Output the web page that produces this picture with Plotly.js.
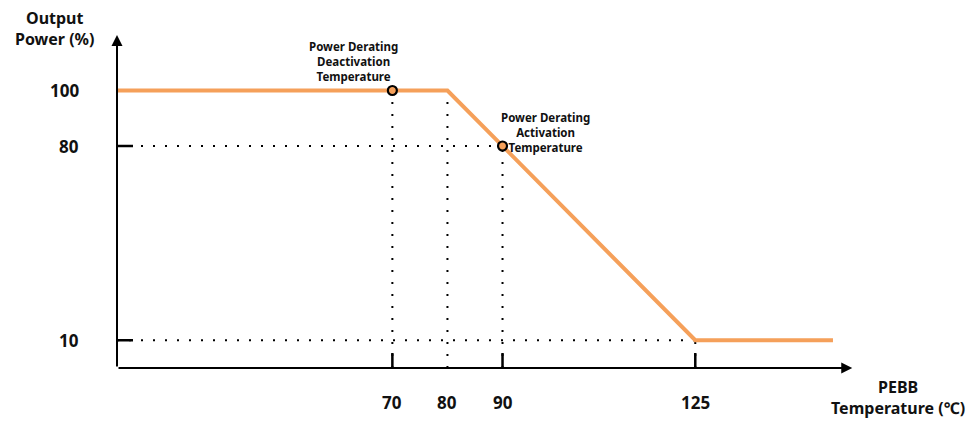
<!DOCTYPE html>
<html>
<head>
<meta charset="utf-8">
<script src="https://cdn.plot.ly/plotly-3.0.1.min.js"></script>
<style>html,body{margin:0;padding:0;background:#fff;}#chart{width:977px;height:421px;}</style>
</head>
<body>
<div id="chart"></div>
<script>
// Data
const curveTemp = [20, 80, 125, 150];
const curvePower = [100, 100, 10, 10];
const markerTemp = [70, 90];
const markerPower = [100, 80];
const xTickVals = [70, 80, 90, 125];
const xTickMarks = [70, 90, 125];
const yTickVals = [10, 80, 100];
const vGuideTemp = [70, 80, 90, 125];
const vGuideTop = [100, 100, 80, 10];
const hGuidePower = [80, 10];
const hGuideEnd = [90, 125];
const xMin = 20, xMax = 154, yMax = 120, xArrowEnd = 153.5;

const FONT = '"Noto Sans", "Open Sans", sans-serif';
const ORANGE = '#F5A05A';
const DOT = '2px,10px';

const shapes = [];
// dotted guides
vGuideTemp.forEach((t, i) => shapes.push({type:'line', xref:'x', yref:'y', x0:t, x1:t, y0:0, y1:vGuideTop[i],
  line:{color:'#000', width:2, dash:DOT}, layer:'below'}));
hGuidePower.forEach((p, i) => shapes.push({type:'line', xref:'x', yref:'y', x0:xMin, x1:hGuideEnd[i], y0:p, y1:p,
  line:{color:'#000', width:2, dash:DOT}, layer:'below'}));
// ticks
yTickVals.forEach(v => shapes.push({type:'line', xref:'x', yref:'y', xsizemode:'pixel', xanchor:xMin, x0:-16, x1:16, y0:v, y1:v,
  line:{color:'#000', width:2.5}, layer:'below'}));
xTickMarks.forEach(v => shapes.push({type:'line', xref:'x', yref:'y', ysizemode:'pixel', yanchor:0, y0:-15, y1:15, x0:v, x1:v,
  line:{color:'#000', width:2.5}, layer:'below'}));

const annotations = [];
// axes with arrows
annotations.push({xref:'x', yref:'y', axref:'x', ayref:'y', x:xArrowEnd, y:0, ax:xMin, ay:0, text:'', showarrow:true,
  arrowhead:2, arrowsize:1.1, arrowwidth:2, arrowcolor:'#000'});
annotations.push({xref:'x', yref:'y', axref:'x', ayref:'y', x:xMin, y:yMax, ax:xMin, ay:0, text:'', showarrow:true,
  arrowhead:2, arrowsize:1.1, arrowwidth:2, arrowcolor:'#000'});
// tick labels
yTickVals.forEach(v => annotations.push({xref:'x', yref:'y', x:xMin, y:v, xshift:-36, xanchor:'right', yanchor:'middle',
  text:'<b>'+v+'</b>', showarrow:false, font:{family:FONT, size:17, color:'#111'}}));
xTickVals.forEach(v => annotations.push({xref:'x', yref:'y', x:v, y:0, yshift:-34, xanchor:'center', yanchor:'middle',
  text:'<b>'+v+'</b>', showarrow:false, font:{family:FONT, size:17, color:'#111'}}));
// axis titles
annotations.push({xref:'paper', yref:'paper', x:0, y:1, xshift:-63, yshift:7, xanchor:'center', yanchor:'middle',
  text:'<b>Output</b><br><b>Power (%)</b>', showarrow:false, align:'center', font:{family:FONT, size:16, color:'#111'}});
annotations.push({xref:'x', yref:'y', x:xArrowEnd, y:0, xshift:46, yshift:-29, xanchor:'center', yanchor:'middle',
  text:'<b>PEBB</b><br><b>Temperature (℃)</b>', showarrow:false, align:'center', font:{family:FONT, size:16, color:'#111'}});
// point labels
annotations.push({xref:'x', yref:'y', x:markerTemp[0], y:markerPower[0], xshift:-39, yshift:29, xanchor:'center', yanchor:'middle',
  text:'<b>Power Derating</b><br><b>Deactivation</b><br><b>Temperature</b>', showarrow:false, align:'center',
  font:{family:FONT, size:11.5, color:'#111'}});
annotations.push({xref:'x', yref:'y', x:markerTemp[1], y:markerPower[1], xshift:43, yshift:14, xanchor:'center', yanchor:'middle',
  text:'<b>Power Derating</b><br><b>Activation</b><br><b>Temperature</b>', showarrow:false, align:'center',
  font:{family:FONT, size:11.5, color:'#111'}});

const traces = [
  {x:curveTemp, y:curvePower, mode:'lines', line:{color:ORANGE, width:4}, hoverinfo:'skip'},
  {x:markerTemp, y:markerPower, mode:'markers', marker:{symbol:'circle', size:9, color:ORANGE, line:{color:'#000', width:2.2}}, hoverinfo:'skip'}
];

const layout = {
  width:977, height:421,
  margin:{l:117, r:122, t:35, b:53},
  paper_bgcolor:'#fff', plot_bgcolor:'#fff',
  showlegend:false,
  xaxis:{range:[xMin, xMax], visible:false, fixedrange:true},
  yaxis:{range:[0, yMax], visible:false, fixedrange:true},
  shapes, annotations
};
Plotly.newPlot('chart', traces, layout, {displayModeBar:false, staticPlot:true});
</script>
</body>
</html>
